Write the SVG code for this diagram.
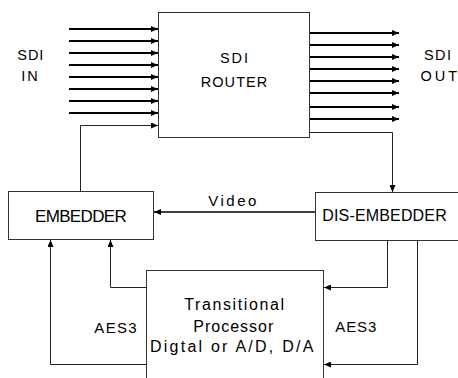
<svg xmlns="http://www.w3.org/2000/svg" width="458" height="378" viewBox="0 0 458 378">
<style>
text{font-family:"Liberation Sans",Arial,sans-serif;fill:#000}
.box{fill:#fff;stroke:#333;stroke-width:1}
.thick{stroke:#000;stroke-width:2;fill:none}
.thin{stroke:#222;stroke-width:1;fill:none}
</style>
<defs>
<marker id="ah" markerWidth="7" markerHeight="6" refX="7" refY="3" orient="auto" markerUnits="userSpaceOnUse">
<path d="M0,0 L7,3 L0,6 Z" fill="#000"/>
</marker>
</defs>
<rect width="458" height="378" fill="#fff"/>
<g id="router">
<rect class="box" x="158.5" y="12.5" width="151" height="125"/>
<text x="220" y="62.7" font-size="14.5" textLength="28" lengthAdjust="spacing">SDI</text>
<text x="200.7" y="87.3" font-size="14.5" textLength="66.6" lengthAdjust="spacing">ROUTER</text>
</g>
<g id="sdi-in">
<text x="17.3" y="59.5" font-size="14.5" textLength="26" lengthAdjust="spacing">SDI</text>
<text x="21.3" y="81" font-size="14.5" textLength="16.4" lengthAdjust="spacing">IN</text>
</g>
<g id="sdi-out">
<text x="424" y="59.5" font-size="14.5" textLength="27" lengthAdjust="spacing">SDI</text>
<text x="420.5" y="81" font-size="14.5" textLength="36.5" lengthAdjust="spacing">OUT</text>
</g>
<g id="embedder">
<rect class="box" x="8.5" y="191.5" width="145" height="48"/>
<text x="35" y="221.7" font-size="17" textLength="91.7" lengthAdjust="spacing">EMBEDDER</text>
</g>
<g id="dis-embedder">
<rect class="box" x="315.5" y="192.5" width="150" height="48"/>
<text x="322.3" y="220.7" font-size="16" textLength="124.4" lengthAdjust="spacing">DIS-EMBEDDER</text>
</g>
<g id="processor">
<rect class="box" x="146.5" y="270.5" width="177" height="120"/>
<text x="184.3" y="310" font-size="16" textLength="99.7" lengthAdjust="spacing">Transitional</text>
<text x="193.3" y="331.5" font-size="16" textLength="80" lengthAdjust="spacing">Processor</text>
<text x="150" y="352" font-size="16" textLength="163.3" lengthAdjust="spacing">Digtal or A/D, D/A</text>
</g>
<g id="connectors">
<line class="thick" x1="69" y1="29" x2="158" y2="29" marker-end="url(#ah)"/>
<line class="thick" x1="69" y1="41" x2="158" y2="41" marker-end="url(#ah)"/>
<line class="thick" x1="69" y1="53" x2="158" y2="53" marker-end="url(#ah)"/>
<line class="thick" x1="69" y1="65" x2="158" y2="65" marker-end="url(#ah)"/>
<line class="thick" x1="69" y1="77" x2="158" y2="77" marker-end="url(#ah)"/>
<line class="thick" x1="69" y1="89" x2="158" y2="89" marker-end="url(#ah)"/>
<line class="thick" x1="69" y1="101" x2="158" y2="101" marker-end="url(#ah)"/>
<line class="thick" x1="69" y1="113" x2="158" y2="113" marker-end="url(#ah)"/>
<polyline class="thin" points="80.5,191.5 80.5,125.5 158,125.5" marker-end="url(#ah)"/>
<line class="thick" x1="310" y1="33" x2="399" y2="33" marker-end="url(#ah)"/>
<line class="thick" x1="310" y1="45" x2="399" y2="45" marker-end="url(#ah)"/>
<line class="thick" x1="310" y1="57" x2="399" y2="57" marker-end="url(#ah)"/>
<line class="thick" x1="310" y1="69" x2="399" y2="69" marker-end="url(#ah)"/>
<line class="thick" x1="310" y1="81" x2="399" y2="81" marker-end="url(#ah)"/>
<line class="thick" x1="310" y1="93" x2="399" y2="93" marker-end="url(#ah)"/>
<line class="thick" x1="310" y1="107" x2="399" y2="107" marker-end="url(#ah)"/>
<line class="thick" x1="310" y1="119" x2="399" y2="119" marker-end="url(#ah)"/>
<polyline class="thin" points="310,132.5 392.5,132.5 392.5,192" marker-end="url(#ah)"/>
<line x1="315" y1="212" x2="154" y2="212" stroke="#000" stroke-width="1.6" marker-end="url(#ah)"/>
<text x="208.3" y="206" font-size="15" textLength="48" lengthAdjust="spacing">Video</text>
<polyline class="thin" points="146.5,364.5 50.5,364.5 50.5,240" marker-end="url(#ah)"/>
<polyline class="thin" points="146.5,287.5 110.5,287.5 110.5,240" marker-end="url(#ah)"/>
<polyline class="thin" points="387.5,240.5 387.5,287.5 324,287.5" marker-end="url(#ah)"/>
<polyline class="thin" points="417.5,240.5 417.5,364.5 324,364.5" marker-end="url(#ah)"/>
<text x="94.3" y="332.7" font-size="15" textLength="42.4" lengthAdjust="spacing">AES3</text>
<text x="335.3" y="331.7" font-size="15" textLength="41" lengthAdjust="spacing">AES3</text>
</g>
</svg>
